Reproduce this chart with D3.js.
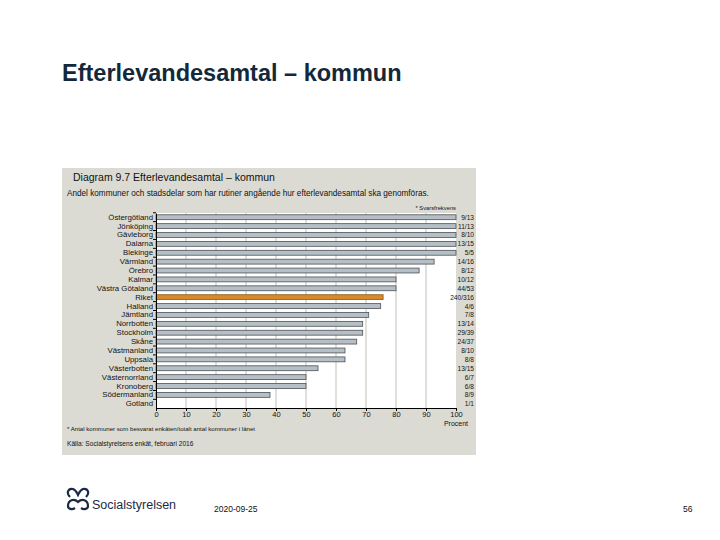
<!DOCTYPE html>
<html>
<head>
<meta charset="utf-8">
<script src="https://cdn.jsdelivr.net/npm/d3@7"></script>
<style>
  body { margin: 0; background: #fff; }
  text { font-family: Arial, "Liberation Sans", sans-serif; }
</style>
</head>
<body>
<svg id="chart" width="720" height="540"></svg>
<script>
// data
const regions = ["Östergötland", "Jönköping", "Gävleborg", "Dalarna", "Blekinge", "Värmland",
  "Örebro", "Kalmar", "Västra Götaland", "Riket", "Halland", "Jämtland", "Norrbotten",
  "Stockholm", "Skåne", "Västmanland", "Uppsala", "Västerbotten", "Västernorrland",
  "Kronoberg", "Södermanland", "Gotland"];
const percent = [100, 100, 100, 100, 100, 92.7, 87.7, 80, 80, 75.7, 74.9, 70.9, 68.9,
  68.9, 66.9, 63, 63, 54, 50, 50, 38, 0];
const answered = ["9/13", "11/13", "8/10", "13/15", "5/5", "14/16", "8/12", "10/12", "44/53",
  "240/316", "4/6", "7/8", "13/14", "29/39", "24/37", "8/10", "8/8", "13/15", "6/7", "6/8",
  "8/9", "1/1"];
const xTicks = [0, 10, 20, 30, 40, 50, 60, 70, 80, 90, 100];

let svg = d3.select("#chart");

// slide title
svg.append("text")
   .attr("x", 62).attr("y", 81)
   .attr("font-size", 23.5).attr("font-weight", "bold")
   .attr("fill", "#13293a")
   .text("Efterlevandesamtal – kommun");

// chart panel
svg.append("rect")
   .attr("x", 62).attr("y", 168)
   .attr("width", 414).attr("height", 287)
   .attr("fill", "#dcdbd3");

svg.append("text")
   .attr("x", 73).attr("y", 181)
   .attr("font-size", 10.5).attr("fill", "#111")
   .text("Diagram 9.7 Efterlevandesamtal – kommun");

svg.append("text")
   .attr("x", 67).attr("y", 196)
   .attr("font-size", 8.2).attr("fill", "#111")
   .text("Andel kommuner och stadsdelar som har rutiner angående hur efterlevandesamtal ska genomföras.");

svg.append("text")
   .attr("x", 456).attr("y", 210)
   .attr("text-anchor", "end")
   .attr("font-size", 5.8).attr("fill", "#111")
   .text("* Svarsfrekvens");

let x = d3.scaleLinear().domain([0, 100]).range([156, 456]);
let y = d3.scaleBand().domain(regions).range([213, 408]).paddingInner(0.45).paddingOuter(0.2);

// plot background
svg.append("rect")
   .attr("x", x(0)).attr("y", 213)
   .attr("width", x(100) - x(0)).attr("height", 195)
   .attr("fill", "#fff");

// gridlines
svg.append("g")
   .selectAll("line")
   .data(xTicks.slice(1, -1))
   .enter()
   .append("line")
     .attr("x1", d => x(d)).attr("x2", d => x(d))
     .attr("y1", 213).attr("y2", 408)
     .attr("stroke", "#d6d4cc").attr("stroke-width", 1.5);

// bars
svg.append("g")
   .selectAll("rect")
   .data(regions)
   .enter()
   .append("rect")
     .attr("x", x(0))
     .attr("y", d => y(d))
     .attr("width", (d, i) => x(percent[i]) - x(0))
     .attr("height", y.bandwidth())
     .attr("fill", d => d === "Riket" ? "#d58a2c" : "#b5bfc5")
     .attr("stroke", d => d === "Riket" ? "#8a5a1e" : "#4d5257")
     .attr("stroke-width", 0.8)
     .attr("display", (d, i) => percent[i] > 0 ? null : "none");

// y axis
let yAxis = svg.append("g")
   .attr("transform", `translate(${x(0)},0)`)
   .call(d3.axisLeft(y).tickSize(0).tickPadding(3));
yAxis.select(".domain").attr("stroke", "#000");
yAxis.selectAll("text")
   .attr("font-size", 7.8).attr("fill", "#111")
   .attr("font-family", "Arial, 'Liberation Sans', sans-serif");
// small ticks between rows
svg.append("g")
   .selectAll("line")
   .data(regions)
   .enter()
   .append("line")
     .attr("x1", x(0) - 3).attr("x2", x(0))
     .attr("y1", d => y(d) - y.step() * y.paddingInner() / 2)
     .attr("y2", d => y(d) - y.step() * y.paddingInner() / 2)
     .attr("stroke", "#000");

// x axis
let xAxis = svg.append("g")
   .attr("transform", "translate(0,408)")
   .call(d3.axisBottom(x).tickValues(xTicks).tickSize(3).tickSizeOuter(0).tickPadding(1));
xAxis.select(".domain").attr("stroke", "#000");
xAxis.selectAll("text")
   .attr("font-size", 7.5).attr("fill", "#111")
   .attr("font-family", "Arial, 'Liberation Sans', sans-serif");

svg.append("text")
   .attr("x", x(100)).attr("y", 426)
   .attr("text-anchor", "middle")
   .attr("font-size", 7).attr("fill", "#111")
   .text("Procent");

// fraction labels on right
svg.append("g")
   .selectAll("text")
   .data(regions)
   .enter()
   .append("text")
     .attr("x", 474)
     .attr("y", d => y(d) + y.bandwidth() / 2 + 2.5)
     .attr("text-anchor", "end")
     .attr("font-size", 6.6).attr("fill", "#111")
     .text((d, i) => answered[i]);

svg.append("text")
   .attr("x", 67).attr("y", 431)
   .attr("font-size", 6.1).attr("fill", "#111")
   .text("* Antal kommuner som besvarat enkäten/totalt antal kommuner i länet");

svg.append("text")
   .attr("x", 67).attr("y", 446)
   .attr("font-size", 6.6).attr("fill", "#111")
   .text("Källa: Socialstyrelsens enkät, februari 2016");

// footer: logo, date, page
let logo = svg.append("g").attr("transform", "translate(66,488)");
logo.append("path")
   .attr("d", "M4,9 C0,5 2,0 7,1 C10,2 11,5 12,7 C13,5 14,2 17,1 C22,0 24,5 20,9 M2,18 C2,12 8,10 12,14 C16,10 22,12 22,18 C22,21 18,22 15,20 M9,20 C6,22 2,21 2,18")
   .attr("fill", "none").attr("stroke", "#1b2a44").attr("stroke-width", 2.2);
logo.append("text")
   .attr("x", 26).attr("y", 21)
   .attr("font-size", 12.5).attr("fill", "#1b2a44")
   .attr("font-family", "'DejaVu Sans Condensed', 'Liberation Sans Narrow', Arial, sans-serif")
   .text("Socialstyrelsen");

svg.append("text")
   .attr("x", 214).attr("y", 512)
   .attr("font-size", 8.5).attr("fill", "#111")
   .text("2020-09-25");

svg.append("text")
   .attr("x", 683).attr("y", 512)
   .attr("font-size", 8.5).attr("fill", "#111")
   .text("56");
</script>
</body>
</html>
